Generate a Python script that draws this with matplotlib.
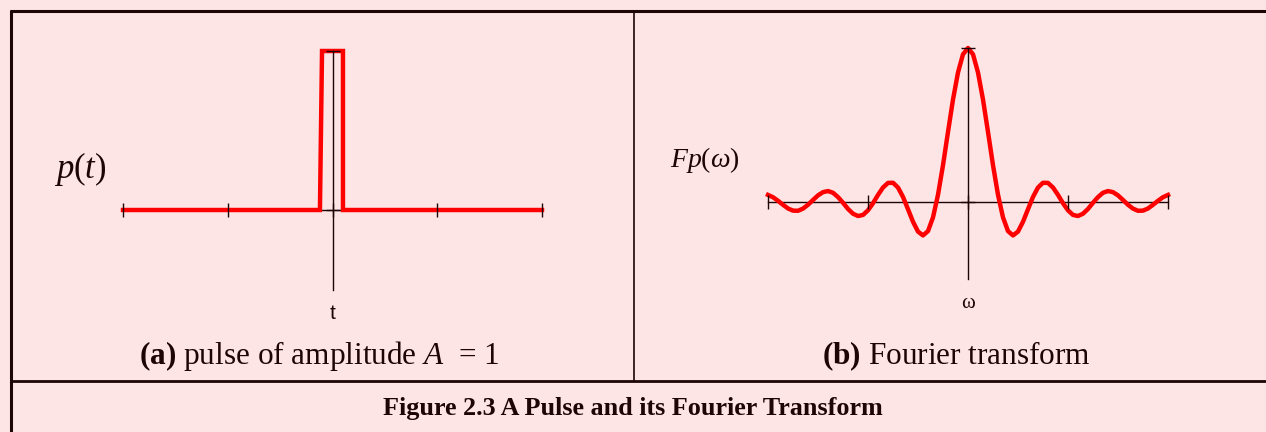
import matplotlib
matplotlib.use("Agg")
import matplotlib.pyplot as plt

plt.rcParams['font.family'] = ['Liberation Serif', 'DejaVu Serif']
plt.rcParams['mathtext.fontset'] = 'custom'
plt.rcParams['mathtext.rm'] = 'Liberation Serif'
plt.rcParams['mathtext.it'] = 'Liberation Serif:italic'
plt.rcParams['mathtext.bf'] = 'Liberation Serif:bold'

# --- data ---------------------------------------------------------------
# (a) rectangular pulse p(t), sampled corners
pulse_t = [-20, -1.2, -1.0, 1.0, 1.0, 20]
pulse_p = [0, 0, 1, 1, 0, 0]

# (b) its transform Fp(w), read at steps of 0.5
omega = [i * 0.5 for i in range(-40, 41)]
fp_pos = [1.00, 0.959, 0.841, 0.665, 0.455, 0.239, 0.047, -0.100, -0.189,
          -0.217, -0.192, -0.128, -0.047, 0.033, 0.094, 0.125, 0.124, 0.094,
          0.046, -0.008, -0.054, -0.084, -0.091, -0.076, -0.045, -0.005,
          0.032, 0.060, 0.071, 0.064, 0.043, 0.013, -0.018, -0.043, -0.057,
          -0.056, -0.042, -0.018, 0.008, 0.031, 0.046]
fp = fp_pos[:0:-1] + fp_pos

x_ticks = [-20, -10, 0, 10, 20]
y_ticks = [0, 1]

BG = '#FDE5E5'
INK = '#1E0505'
RED = '#FF0000'

W, H = 1266, 432
fig = plt.figure(figsize=(W / 100, H / 100), dpi=100, facecolor=BG)

# pixel-space frame for the table borders and captions
frame = fig.add_axes([0, 0, 1, 1])
frame.set_xlim(0, W)
frame.set_ylim(H, 0)
frame.axis('off')
frame.set_facecolor(BG)

frame.plot([10, W], [11, 11], color=INK, lw=2.2, solid_capstyle='butt')
frame.plot([10.5, 10.5], [10, H], color=INK, lw=2.2, solid_capstyle='butt')
frame.plot([10, W], [381, 381], color=INK, lw=2.0, solid_capstyle='butt')
frame.plot([634, 634], [11, 381], color=INK, lw=1.2, solid_capstyle='butt')

frame.text(319, 356, r'$\mathbf{(a)}$ pulse of amplitude $A$  = 1',
           fontsize=22.5, ha='center', va='center', color=INK)
frame.text(956, 356, r'$\mathbf{(b)}$ Fourier transform',
           fontsize=22.5, ha='center', va='center', color=INK)
frame.text(633, 409, 'Figure 2.3 A Pulse and its Fourier Transform',
           fontsize=18.8, fontweight='bold', ha='center', va='center', color=INK)


def px_axes(x0, x1, y_top, y_bot):
    # axes placed by pixel edges (y measured from the top)
    return fig.add_axes([x0 / W, 1 - y_bot / H, (x1 - x0) / W, (y_bot - y_top) / H])


def draw_crossed_axes(ax):
    ax.set_xlim(-20, 20)
    ax.set_ylim(-0.5, 1)
    ax.axis('off')
    ax.plot([-20, 20], [0, 0], color=INK, lw=1.0, zorder=1, clip_on=False)
    ax.plot([0, 0], [-0.5, 1], color=INK, lw=1.0, zorder=3, clip_on=False)
    ax.plot(x_ticks, [0] * len(x_ticks), ls='none', marker='|', ms=10,
            mew=1.0, color=INK, zorder=4, clip_on=False)
    ax.plot([0] * len(y_ticks), y_ticks, ls='none', marker='_', ms=10,
            mew=1.0, color=INK, zorder=4, clip_on=False)


ax1 = px_axes(123, 542, 51, 289.5)
draw_crossed_axes(ax1)
ax1.plot(pulse_t, pulse_p, color=RED, lw=3.2, zorder=2, clip_on=False,
         solid_joinstyle='miter')
ax1.text(0, -0.65, 't', fontfamily='Liberation Sans', fontsize=15,
         ha='center', va='center', color=INK)
fig.text(80 / W, 1 - 169 / H, r'$p(t)$', fontsize=25, ha='center',
         va='center', color=INK)

ax2 = px_axes(768, 1168, 48, 279)
draw_crossed_axes(ax2)
ax2.plot(omega, fp, color=RED, lw=3.2, zorder=2, clip_on=False)
ax2.text(0, -0.66, '\u03c9', fontsize=15, ha='center', va='center', color=INK)
fig.text(705 / W, 1 - 160 / H, r'$Fp(\omega)$', fontsize=20, ha='center',
         va='center', color=INK)

fig.savefig('out.png', dpi=100, facecolor=BG)
